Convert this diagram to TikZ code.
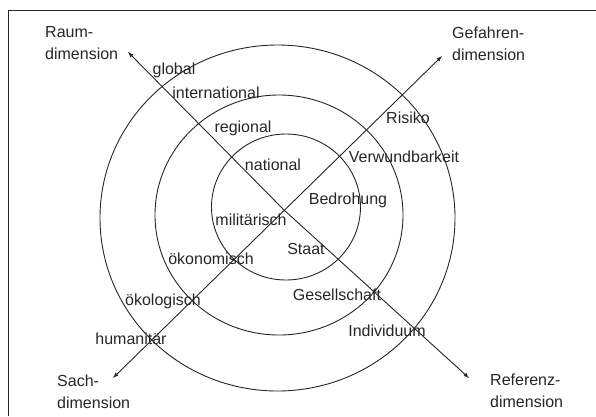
\documentclass[tikz,border=0pt]{standalone}
\usepackage{fontspec}
\setmainfont{Liberation Sans}
\tikzset{
  ring/.style={draw=black!85, line width=0.9pt},
  achse/.style={draw=black!85, line width=0.9pt, latex-latex},
  stufe/.style={inner sep=0pt, text=black!85},
  dimtext/.style={inner sep=0pt, align=left, anchor=north west, text=black!85}
}
\begin{document}
\begin{tikzpicture}[x=1pt, y=-1pt, font=\fontsize{16}{22}\selectfont]
	\useasboundingbox (0,0) rectangle (596,416);
	
	%% Rahmen
	\draw[black!85, line width=1pt] (8,416)--(8,10)--(596,10);
	
	%% Kreise
	\draw[ring] (277.5,218) ellipse [x radius=177.5pt, y radius=173pt];
	\draw[ring] (279,215) ellipse [x radius=124pt, y radius=120pt];
	\draw[ring] (286,207) ellipse [x radius=74.5pt, y radius=73pt];
	
	%% Achsen
	\coordinate (M) at (284,210);
	\coordinate (raum) at (128,52);
	\coordinate (referenz) at (469,378);
	\coordinate (sach) at (113,378);
	\coordinate (gefahr) at (442,56);
	\draw[achse] (raum)--(M)--(referenz);
	\draw[achse] (sach)--(gefahr);
	
	%% Dimensionen
	\node[dimtext] (raumtext) at (45,26) {Raum-\\dimension};
	\node[dimtext] (gefahrtext) at (452,27) {Gefahren-\\dimension};
	\node[dimtext] (sachtext) at (57,375) {Sach-\\dimension};
	\node[dimtext] (referenztext) at (490,374) {Referenz-\\dimension};
	
	%% Raum
	\node[stufe] (global) at (174,70) {global};
	\node[stufe] (international) at (216,93) {international};
	\node[stufe] (regional) at (243,128) {regional};
	\node[stufe] (national) at (273,165) {national};
	
	%% Gefahr
	\node[stufe] (risiko) at (408,118) {Risiko};
	\node[stufe] (verwundbarkeit) at (404,157) {Verwundbarkeit};
	\node[stufe] (bedrohung) at (348,200) {Bedrohung};
	
	%% Sache
	\node[stufe] (militaerisch) at (251,220) {militärisch};
	\node[stufe] (oekonomisch) at (211,259) {ökonomisch};
	\node[stufe] (oekologisch) at (163,301) {ökologisch};
	\node[stufe] (humanitaer) at (131,339) {humanitär};
	
	%% Referenz
	\node[stufe] (staat) at (306,249) {Staat};
	\node[stufe] (gesellschaft) at (337,295) {Gesellschaft};
	\node[stufe] (individuum) at (387,331) {Individuum};
\end{tikzpicture}
\end{document}
